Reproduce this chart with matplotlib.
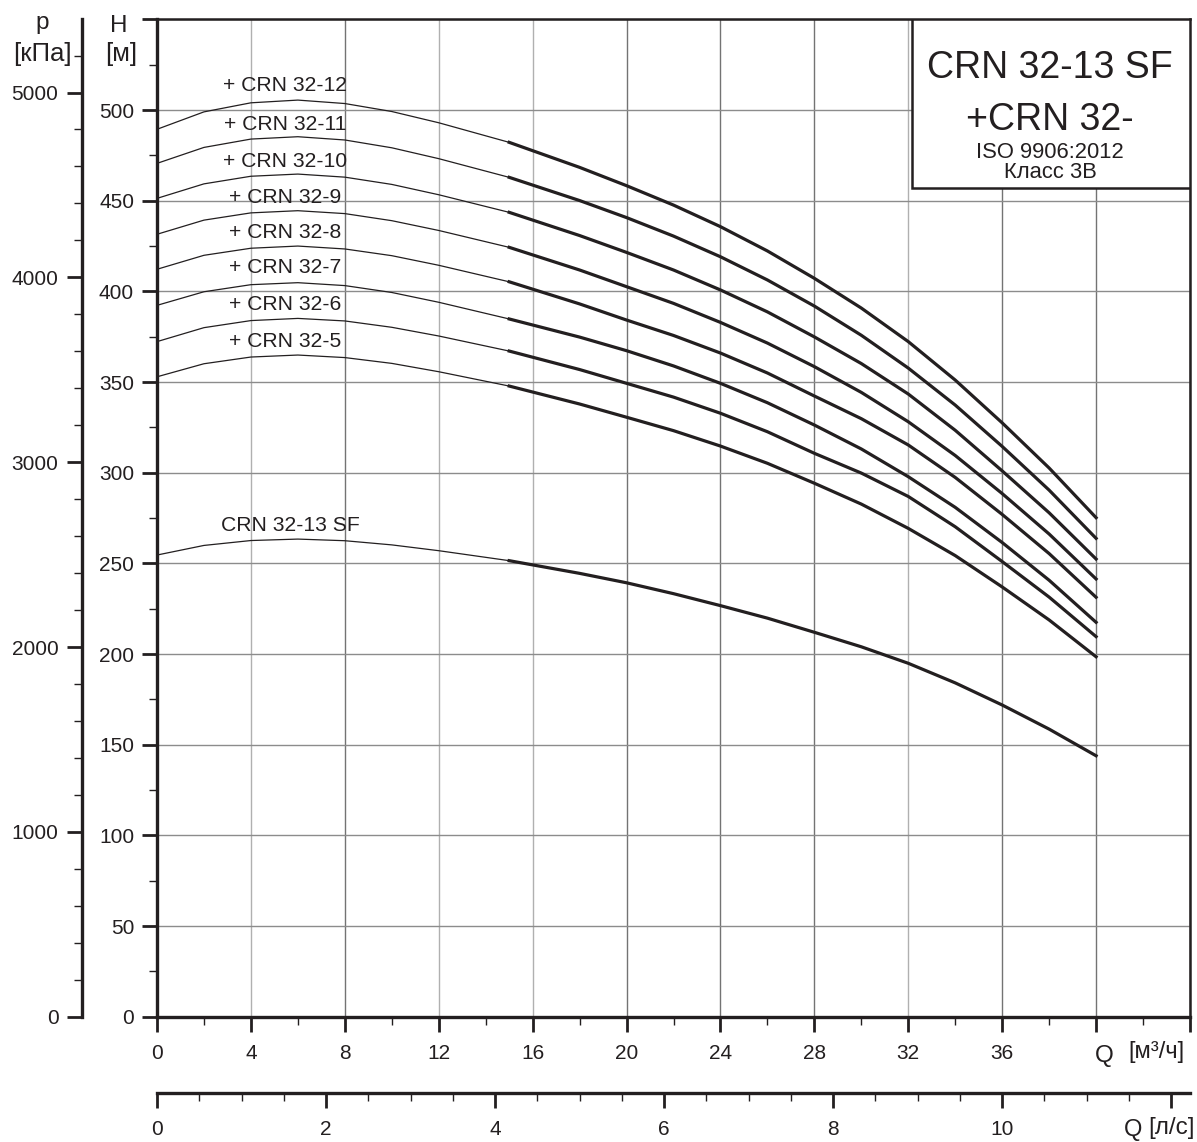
import numpy as np
import matplotlib.pyplot as plt
from matplotlib.patches import Rectangle
from matplotlib.ticker import MultipleLocator

plt.rcParams['font.family'] = ['Liberation Sans', 'DejaVu Sans']

# ------------------------------
# Data: Q [m3/h] and head H [m]
q_points = [0, 2, 4, 6, 8, 10, 12, 15, 18, 20, 22, 24, 26, 28, 30, 32, 34, 36, 38, 40]

crn_12 = [489.4, 499.0, 504.0, 505.5, 503.6, 499.2, 493.0, 482.2, 468.4, 458.3, 447.6, 435.7, 422.3, 407.2, 390.8, 372.3, 351.1, 327.5, 302.6, 275.2]
crn_11 = [470.6, 479.4, 484.0, 485.3, 483.5, 479.2, 473.2, 462.9, 450.1, 440.7, 430.5, 419.1, 406.3, 391.9, 375.8, 357.7, 337.3, 314.5, 290.4, 263.8]
crn_10 = [451.3, 459.3, 463.5, 464.7, 463.0, 459.0, 453.3, 443.6, 430.8, 421.5, 411.8, 400.8, 388.7, 374.9, 360.2, 343.4, 323.4, 301.0, 277.9, 252.4]
crn_9 = [431.5, 439.3, 443.3, 444.5, 442.9, 439.0, 433.6, 424.3, 411.8, 402.6, 393.4, 382.9, 371.5, 358.5, 344.3, 328.1, 309.5, 288.5, 266.2, 241.4]
crn_8 = [412.2, 419.9, 423.8, 425.0, 423.4, 419.7, 414.4, 405.3, 393.1, 384.2, 375.7, 366.0, 355.0, 342.3, 329.8, 315.3, 297.4, 277.0, 255.4, 231.3]
crn_7 = [392.3, 399.8, 403.7, 404.8, 403.2, 399.4, 394.0, 384.8, 374.8, 367.3, 358.9, 349.3, 338.6, 326.3, 313.1, 297.8, 280.9, 261.5, 240.7, 217.5]
crn_6 = [372.3, 380.0, 383.9, 385.1, 383.7, 380.2, 375.4, 367.1, 356.9, 349.3, 341.7, 332.8, 322.6, 310.7, 299.8, 286.9, 270.2, 251.0, 231.4, 209.6]
crn_5 = [352.9, 360.1, 363.8, 364.9, 363.5, 360.3, 355.7, 347.8, 337.9, 330.6, 323.2, 314.7, 305.2, 294.2, 282.7, 269.3, 254.3, 237.0, 218.8, 198.5]
crn_sf = [254.6, 259.9, 262.6, 263.4, 262.5, 260.2, 257.0, 251.5, 244.5, 239.3, 233.3, 226.7, 219.8, 212.0, 204.0, 194.9, 184.1, 171.9, 158.6, 143.9]

curve_names = ["+ CRN 32-12", "+ CRN 32-11", "+ CRN 32-10", "+ CRN 32-9", "+ CRN 32-8",
               "+ CRN 32-7", "+ CRN 32-6", "+ CRN 32-5", "CRN 32-13 SF"]
curves = [crn_12, crn_11, crn_10, crn_9, crn_8, crn_7, crn_6, crn_5, crn_sf]

# label positions (x in Q, baseline in H)
label_q = [5.45] * 8 + [5.7]
label_h = [510.7, 489.0, 468.8, 448.6, 429.3, 410.0, 389.7, 369.5, 268.0]

q_ticks = list(range(0, 45, 4))
q_tick_labels = [str(v) for v in range(0, 37, 4)] + ['', '']
h_ticks = list(range(0, 551, 50))
h_tick_labels = [str(v) for v in range(0, 501, 50)] + ['']
p_ticks = list(range(0, 5001, 1000))
ls_ticks = list(range(0, 13, 2))
ls_tick_labels = ['0', '2', '4', '6', '8', '10', '']

ink = '#231f20'
light, dark = '#b0b0b0', '#737373'
vgrid_colors = [ink, light, dark, light, light, dark, dark, dark, light, dark, dark, ink]
W, H = 1197, 1142

# ------------------------------
fig = plt.figure(figsize=(W / 100, H / 100), dpi=100)
ax = fig.add_axes([157 / W, 1 - 1016.7 / H, (1190 - 157) / W, (1016.7 - 19.4) / H])
ax.set_xlim(0, 44)
ax.set_ylim(0, 550)

q = np.array(q_points)
thin = q <= 15
thick = q >= 15
for h in curves:
    h = np.array(h)
    ax.plot(q[thin], h[thin], color=ink, lw=0.9, zorder=3, solid_joinstyle='round')
    ax.plot(q[thick], h[thick], color=ink, lw=2.3, zorder=3, solid_joinstyle='round')

for name, xq, yh in zip(curve_names, label_q, label_h):
    ax.text(xq, yh, name, ha='center', va='baseline', fontsize=15.2, color=ink)

# grid
ax.set_xticks(q_ticks, labels=q_tick_labels)
ax.set_yticks(h_ticks, labels=h_tick_labels)
ax.xaxis.set_minor_locator(MultipleLocator(2))
ax.yaxis.set_minor_locator(MultipleLocator(25))
ax.grid(True, which='major', axis='y', color='#8c8c8c', lw=1.0)
ax.grid(True, which='major', axis='x', lw=1.0)
for line, c in zip(ax.get_xgridlines(), vgrid_colors):
    line.set_color(c)
ax.set_axisbelow(True)

ax.tick_params(which='major', length=11, width=2.0, labelsize=15, colors=ink)
ax.tick_params(axis='x', which='major', pad=8.5)
ax.tick_params(axis='y', which='major', pad=5.5)
ax.tick_params(which='minor', length=6, width=1.0, colors=ink)
for side in ['left', 'bottom']:
    ax.spines[side].set_linewidth(2.4)
for side in ['top', 'right']:
    ax.spines[side].set_linewidth(1.8)
for s in ax.spines.values():
    s.set_color(ink)

# pressure axis
sec_p = ax.secondary_yaxis(-75 / 1033, functions=(lambda h: h * 9.81, lambda p: p / 9.81))
sec_p.set_yticks(p_ticks)
sec_p.yaxis.set_minor_locator(MultipleLocator(200))
sec_p.tick_params(which='major', length=11, width=2.0, labelsize=15, colors=ink, pad=6)
sec_p.tick_params(which='minor', length=6, width=1.0, colors=ink)
sec_p.spines['left'].set_linewidth(2.4)
sec_p.spines['left'].set_color(ink)

# flow in l/s
sec_q = ax.secondary_xaxis(-76 / 997.3, functions=(lambda v: v / 3.6, lambda v: v * 3.6))
sec_q.set_xticks(ls_ticks, labels=ls_tick_labels)
sec_q.xaxis.set_minor_locator(MultipleLocator(0.5))
sec_q.tick_params(which='major', length=11, width=2.0, labelsize=15, colors=ink, pad=9)
sec_q.tick_params(which='minor', length=6, width=1.0, colors=ink)
sec_q.spines['bottom'].set_linewidth(2.4)
sec_q.spines['bottom'].set_color(ink)

# title box
ax.add_patch(Rectangle((0.731, 0.831), 0.269, 0.169, transform=ax.transAxes,
                       facecolor='white', edgecolor=ink, lw=1.8, zorder=5))
ax.text(0.8645, 0.941, "CRN 32-13 SF", transform=ax.transAxes, ha='center', va='baseline',
        fontsize=27, color=ink, zorder=6)
ax.text(0.8645, 0.889, "+CRN 32-", transform=ax.transAxes, ha='center', va='baseline',
        fontsize=27, color=ink, zorder=6)
ax.text(0.8645, 0.861, "ISO 9906:2012", transform=ax.transAxes, ha='center', va='baseline',
        fontsize=15.8, color=ink, zorder=6)
ax.text(0.8645, 0.8407, "Класс 3B", transform=ax.transAxes, ha='center', va='baseline',
        fontsize=15.8, color=ink, zorder=6)

# axis names
def ftext(x, y, s, size):
    fig.text(x / W, 1 - y / H, s, ha='center', va='baseline', fontsize=size, color=ink)

ftext(42, 29, "p", 17.5)
ftext(42, 61, "[кПа]", 18.5)
ftext(119, 32, "H", 17.5)
ftext(121, 61, "[м]", 18.5)
ftext(1104, 1062, "Q", 17.5)
ftext(1156, 1058, "[м³/ч]", 17)
ftext(1133, 1136, "Q", 17)
ftext(1171, 1134, "[л/с]", 17.5)

plt.savefig("out.png", dpi=100)
